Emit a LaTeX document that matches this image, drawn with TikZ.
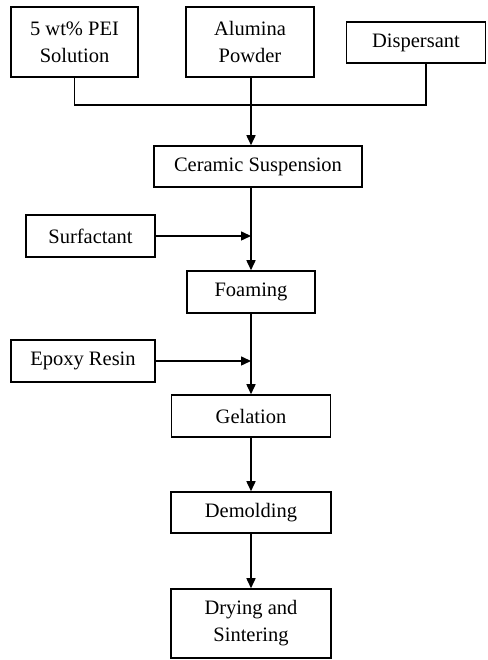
\documentclass[tikz,border=0pt]{standalone}
\usepackage{fontspec}
\setmainfont{Liberation Serif}
\usetikzlibrary{arrows.meta}

\begin{document}
\begin{tikzpicture}[x=1pt,y=1pt,line width=1.5pt,font=\fontsize{20.5}{27}\selectfont]
\tikzstyle{box}=[draw,rectangle,inner sep=0,align=center,minimum height=42]
\tikzstyle{arr}=[-{Triangle[length=10pt,width=9pt]}]
\useasboundingbox (0,0) rectangle (487,660);
% raw materials
\node[box,minimum width=127,minimum height=70] (pei) at (74.5,618) {5 wt\% PEI\\Solution};
\node[box,minimum width=128,minimum height=70] (alumina) at (250,618) {Alumina\\Powder};
\node[box,minimum width=139,minimum height=41] (disp) at (416,617.5) {Dispersant};
\coordinate (join) at (251,555);
\draw (pei.south) |- (join);
\draw ([xshift=10]disp.south) |- (join);
\draw (alumina.south -| join) -- (join);
% process steps
\node[box,minimum width=208,minimum height=41] (ceramic) at (258,493.5) {Ceramic Suspension};
\node[box,minimum width=129] (surf) at (90.5,424) {Surfactant};
\node[box,minimum width=128] (foam) at (251,368) {Foaming};
\node[box,minimum width=144] (epoxy) at (83,299) {Epoxy Resin};
\node[box,minimum width=159] (gel) at (251,244) {Gelation};
\node[box,minimum width=160,minimum height=41] (demold) at (251,147.5) {Demolding};
\node[box,minimum width=160,minimum height=69] (dry) at (251,36.5) {Drying and\\Sintering};
\draw[arr] (join) -- (join |- ceramic.north);
\draw[arr] (ceramic.south -| foam.north) -- (foam.north);
\draw[arr] (surf.east) -- (surf.east -| foam.north);
\draw[arr] (foam.south) -- (gel.north);
\draw[arr] (epoxy.east) -- (epoxy.east -| gel.north);
\draw[arr] (gel.south) -- (demold.north);
\draw[arr] (demold.south) -- (dry.north);
\end{tikzpicture}
\end{document}
